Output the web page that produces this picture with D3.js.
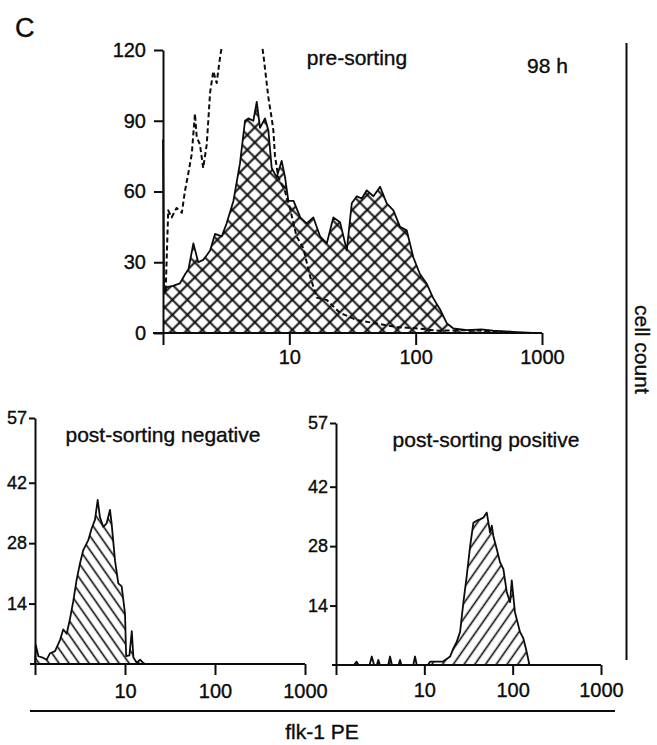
<!DOCTYPE html>
<html>
<head>
<meta charset="utf-8">
<script src="https://cdn.jsdelivr.net/npm/d3@7"></script>
<style>
  body { margin: 0; background: #fff; }
  svg { display: block; }
</style>
</head>
<body>
<script>
/* Panel C — flk-1 PE flow histograms, 98 h: pre-sorting (crosshatched
 * sample + dashed control) and the two post-sorting fractions.
 * x values are flk-1 PE fluorescence (log axis), y values cell counts. */

/* pre-sorting, stained sample (crosshatched) */
var preFlk = [1.0, 1.02, 1.07, 1.2, 1.36, 1.5, 1.59, 1.74, 1.9, 2.08, 2.22, 2.36, 2.58, 2.92, 3.19, 3.61,
  4.07, 4.46, 4.74, 5.19, 5.52, 5.86, 6.42, 6.82, 7.25, 7.94, 8.7, 9.25, 9.82, 10.8, 12.2, 13.7, 15.5,
  17.5, 19.8, 22.3, 25.2, 28.5, 31.2, 34.2, 37.5, 41.0, 46.3, 52.3, 59.0, 66.6, 75.2, 85.0, 95.9, 108,
  122, 137, 156, 177, 198, 255, 330, 410, 590, 851];
var preCount = [82, 17, 19.5, 20, 21, 25, 27, 38, 30, 31, 33, 35, 42, 41, 46.5, 56,
  72, 90, 91, 90, 98, 87, 91, 86, 70, 66, 73, 66, 56, 56, 49, 46.5, 49,
  41, 38, 49, 47, 35, 55, 58, 57, 60.5, 58, 62, 55, 52, 45, 43.5, 32, 25,
  21, 15, 10, 4, 2, 1.2, 1.5, 1, 0.5, 0];

/* pre-sorting, control (dashed, runs off the top of the axis) */
var ctrlFlk = [1.05, 1.1, 1.17, 1.28, 1.41, 1.49, 1.59, 1.69, 1.79, 1.85, 1.96, 2.08, 2.22, 2.36, 2.5,
  2.66, 2.83, 3.0, 3.5, 4.2, 5.0, 5.8, 6.23, 6.82, 7.25, 7.47, 7.7, 8.18, 9.25, 10.1, 11.4, 12.9, 14.6,
  16.5, 19.8, 25.2, 34.2, 49.2, 71.0, 100, 150, 250, 400, 600];
var ctrlCount = [18, 52, 49, 53, 51, 60, 68, 76, 93, 83, 80, 70, 80, 102, 111,
  106, 117, 125, 140, 150, 145, 130, 118, 100, 91, 86, 75, 66, 60, 53, 41, 36, 24,
  15, 14, 8.5, 5.5, 4, 2.5, 2, 1, 1.2, 0.8, 0];

/* post-sorting negative */
var negFlk = [1.0, 1.02, 1.09, 1.24, 1.35, 1.47, 1.67, 1.9, 2.06, 2.25, 2.45, 2.66, 2.9, 3.16, 3.44,
  3.91, 4.26, 4.64, 4.97, 5.27, 5.74, 6.25, 6.81, 7.1, 7.74, 8.43, 9.18, 10.0, 10.3, 11.2, 11.9, 12.4,
  13.5, 14.7, 16.0, 17.0];
var negCount = [0, 4.4, 1.8, 1.4, 1, 2.5, 3, 5.6, 8, 7, 10.5, 14.5, 19.5, 23.3, 26.4,
  28.7, 31.4, 33.4, 38, 34, 31.8, 32.6, 35.7, 32.6, 24, 18.7, 18, 11.7, 1.8, 2, 7.6, 1.5,
  0.3, 1, 0.2, 0];

/* post-sorting positive */
var posFlk = [1.0, 1.6, 1.71, 1.8, 2.4, 2.54, 2.7, 2.9, 3.01, 3.15, 3.9, 4.09, 4.3, 5.1, 5.31, 5.5,
  7.5, 7.85, 8.2, 11.0, 11.6, 16.3, 19.6, 21.3, 23.3, 25.4, 27.7, 30.2, 33.0, 35.9, 39.2, 42.7, 46.6,
  50.9, 55.5, 58.0, 60.4, 66.0, 71.9, 78.5, 85.8, 93.5, 97.7, 106, 121, 132, 144, 155];
var posCount = [0, 0, 0.8, 0, 0, 2, 0, 0, 1.2, 0, 0, 2, 0, 0, 1.2, 0,
  0, 2, 0, 0, 0.8, 0.8, 2, 3.9, 5.5, 7.8, 14.8, 21, 28, 33.5, 34, 34.3, 34.7,
  35.9, 31.2, 32.8, 30.4, 27.3, 24.2, 22.6, 17.1, 14.8, 19.9, 12.5, 7.8, 6.3, 3.1, 0];

/* ticks */
var xTicks = [1, 10, 100, 1000];
var preYTicks = [0, 30, 60, 90, 120];
var postYTicks = [14, 28, 42, 57];

var FONT = "'Liberation Sans', Arial, Helvetica, sans-serif";
var INK = "#0c0c0c";

var svg = d3.select("body").append("svg")
  .attr("width", 657)
  .attr("height", 745);
var defs = svg.append("defs");

/* Hatch patterns: one tile with a centred line (two for the cross),
   rotated into place. */
function hatch(id, size, angle, cross, width) {
  var p = defs.append("pattern")
    .attr("id", id)
    .attr("patternUnits", "userSpaceOnUse")
    .attr("width", size)
    .attr("height", size)
    .attr("patternTransform", "rotate(" + angle + ")");
  p.append("path")
    .attr("d", "M" + size / 2 + ",0V" + size + (cross ? "M0," + size / 2 + "H" + size : ""))
    .attr("stroke", INK)
    .attr("stroke-width", width)
    .attr("fill", "none");
}
hatch("cross", 10.6, 45, true, 2);
hatch("back", 8.2, -35, false, 1.6);
hatch("fwd", 8.8, 35, false, 1.6);

function histogram(g, x, y, xs, ys, fillId, dashed) {
  var pts = xs.map(function (v, i) { return [v, ys[i]]; });
  if (fillId) {
    g.append("path").datum(pts)
      .attr("d", d3.area().x(function (d) { return x(d[0]); }).y0(y(0)).y1(function (d) { return y(d[1]); }))
      .attr("fill", "url(#" + fillId + ")");
  }
  g.append("path").datum(pts)
    .attr("d", d3.line().x(function (d) { return x(d[0]); }).y(function (d) { return y(d[1]); }))
    .attr("fill", "none")
    .attr("stroke", INK)
    .attr("stroke-width", dashed ? 2 : 1.8)
    .attr("stroke-linejoin", "round")
    .attr("stroke-dasharray", dashed ? "5,3" : null);
}

function styleText(sel, fontSize) {
  sel.attr("fill", INK)
    .attr("stroke", INK)
    .attr("stroke-width", 0.35)
    .attr("font-family", FONT)
    .attr("font-size", fontSize);
}

function styleAxis(a, fontSize) {
  a.selectAll("line, path").attr("stroke", INK).attr("stroke-width", 2);
  styleText(a.selectAll("text"), fontSize);
}

function xAxis(x, y0, tickLen, pad, overhang) {
  var a = svg.append("g")
    .attr("transform", "translate(0," + y0 + ")")
    .call(d3.axisBottom(x).tickValues(xTicks).tickSize(tickLen).tickPadding(pad)
      .tickFormat(function (v) { return v === 1 ? "" : String(v); }));
  a.select(".domain").remove();
  a.append("line")
    .attr("x1", x(1) - overhang)
    .attr("x2", x(1000));
  styleAxis(a, 20);
}

function yAxis(y, x0, ticks, tickLen, pad, fontSize) {
  var a = svg.append("g")
    .attr("transform", "translate(" + x0 + ",0)")
    .call(d3.axisLeft(y).tickValues(ticks).tickSize(tickLen).tickSizeOuter(0).tickPadding(pad));
  styleAxis(a, fontSize);
}

function label(x, y, text, size, anchor) {
  var t = svg.append("text")
    .attr("x", x)
    .attr("y", y)
    .attr("text-anchor", anchor || "start")
    .text(text);
  styleText(t, size);
  return t;
}

/* ---- pre-sorting ---- */
var xPre = d3.scaleLog().domain([1, 1000]).range([163, 542]);
var yPre = d3.scaleLinear().domain([0, 120]).range([333, 50]);

svg.append("clipPath").attr("id", "preClip")
  .append("rect")
  .attr("x", xPre(1) - 2).attr("y", yPre(120) - 2)
  .attr("width", xPre(1000) - xPre(1) + 4).attr("height", yPre(0) - yPre(120) + 2);
var gPre = svg.append("g").attr("clip-path", "url(#preClip)");
histogram(gPre, xPre, yPre, preFlk, preCount, "cross", false);
histogram(gPre, xPre, yPre, ctrlFlk, ctrlCount, null, true);
xAxis(xPre, yPre(0), 12, 5, 10);
yAxis(yPre, xPre(1), preYTicks, 9, 8, 20);
label(357, 65, "pre-sorting", 21, "middle");
label(527, 73, "98 h", 21);

/* ---- post-sorting negative ---- */
var xNeg = d3.scaleLog().domain([1, 1000]).range([35, 305]);
var yNeg = d3.scaleLinear().domain([0, 57]).range([664, 418]);
histogram(svg.append("g"), xNeg, yNeg, negFlk, negCount, "back", false);
xAxis(xNeg, yNeg(0), 11, 9, 5);
yAxis(yNeg, xNeg(1), postYTicks, 6, 2, 18);
label(163, 442, "post-sorting negative", 21, "middle");

/* ---- post-sorting positive ---- */
var xPos = d3.scaleLog().domain([1, 1000]).range([336, 601]);
var yPos = d3.scaleLinear().domain([0, 57]).range([665, 423]);
histogram(svg.append("g"), xPos, yPos, posFlk, posCount, "fwd", false);
xAxis(xPos, yPos(0), 10, 8, 4);
yAxis(yPos, xPos(1), postYTicks, 6, 2, 18);
label(486, 447, "post-sorting positive", 21, "middle");

/* ---- panel letter and shared axis titles ---- */
label(15, 37, "C", 27);
svg.append("line")
  .attr("x1", 626.5).attr("x2", 626.5).attr("y1", 43).attr("y2", 660)
  .attr("stroke", INK).attr("stroke-width", 2);
label(0, 0, "cell count", 21)
  .attr("transform", "translate(635,305) rotate(90)");
svg.append("line")
  .attr("x1", 30).attr("x2", 615).attr("y1", 711).attr("y2", 711)
  .attr("stroke", INK).attr("stroke-width", 2);
label(322, 739, "flk-1 PE", 21, "middle");
</script>
</body>
</html>
